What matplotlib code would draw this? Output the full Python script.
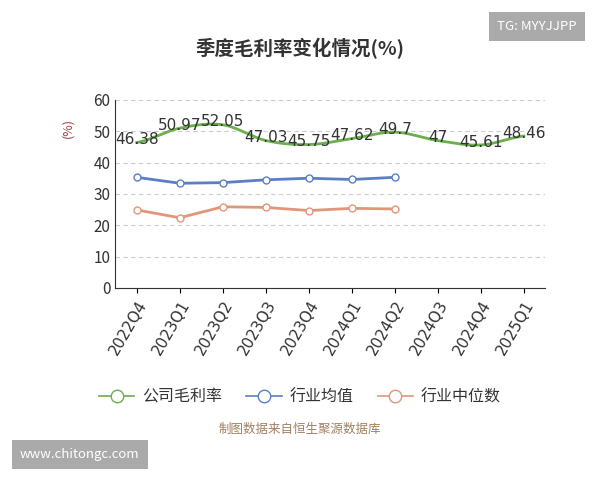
import numpy as np
import matplotlib
matplotlib.use("Agg")
import matplotlib.pyplot as plt
from matplotlib.lines import Line2D

plt.rcParams["font.family"] = ["Noto Sans CJK SC", "DejaVu Sans"]

quarters = ["2022Q4", "2023Q1", "2023Q2", "2023Q3", "2023Q4", "2024Q1",
            "2024Q2", "2024Q3", "2024Q4", "2025Q1"]
company = [46.38, 50.97, 52.05, 47.03, 45.75, 47.62, 49.7, 47, 45.61, 48.46]
industry_avg = [35.3, 33.4, 33.6, 34.5, 35.0, 34.6, 35.3]
industry_med = [24.9, 22.4, 25.9, 25.7, 24.7, 25.4, 25.2]

green, blue, orange = "#6ab04c", "#5b7fc4", "#e0967a"

fig = plt.figure(figsize=(6, 4.8), dpi=100)
ax = fig.add_axes([0.192, 0.4, 0.717, 0.392])

x = np.arange(len(quarters))
xs = np.linspace(0, len(x) - 1, 300)
def catmull(yv, xs):
    yv = np.asarray(yv, float)
    out = []
    for t in xs:
        i = min(int(t), len(yv) - 2)
        u = t - i
        p0 = yv[max(i - 1, 0)]; p1 = yv[i]; p2 = yv[i + 1]; p3 = yv[min(i + 2, len(yv) - 1)]
        out.append(0.5 * ((2 * p1) + (-p0 + p2) * u + (2 * p0 - 5 * p1 + 4 * p2 - p3) * u ** 2
                          + (-p0 + 3 * p1 - 3 * p2 + p3) * u ** 3))
    return np.array(out)
ax.plot(xs, catmull(company, xs), color=green, lw=2)
for xi, v in zip(x, company):
    ax.text(xi, v - 1.5, f"{v:g}", ha="center", va="bottom", fontsize=11, color="#333333",
            family="DejaVu Sans")

ax.plot(x[:len(industry_avg)], industry_avg, color=blue, lw=2, marker="o", ms=5,
        mfc="white", mec=blue)
ax.plot(x[:len(industry_med)], industry_med, color=orange, lw=2, marker="o", ms=5,
        mfc="white", mec=orange)

ax.set_xlim(-0.5, len(x) - 0.5)
ax.set_ylim(0, 60)
ax.set_yticks(range(0, 61, 10))
ax.yaxis.grid(True, ls=(0, (4, 3)), color="#cccccc")
ax.set_xticks(x)
ax.set_xticklabels(quarters, rotation=60, ha="right", rotation_mode="anchor", fontsize=11,
                   family="DejaVu Sans", color="#333333")
ax.tick_params(axis="y", labelsize=11, length=0, labelcolor="#333333")
for s in ["top", "right"]:
    ax.spines[s].set_visible(False)
ax.spines["left"].set_color("#333333")
ax.spines["bottom"].set_color("#333333")
ax.set_ylabel("(%)", color="#a04040", fontsize=9, rotation=90)
ax.yaxis.set_label_coords(-0.095, 0.85)

fig.text(0.5, 0.885, "季度毛利率变化情况(%)", ha="center", fontsize=14, fontweight="bold",
         color="#333333")

handles = [Line2D([], [], color=c, lw=1.2, marker="o", ms=9, mfc="white", mec=c)
           for c in (green, blue, orange)]
fig.legend(handles, ["公司毛利率", "行业均值", "行业中位数"], loc="center",
           bbox_to_anchor=(0.5, 0.172), ncol=3, frameon=False, fontsize=11.5,
           handlelength=2.2, columnspacing=1.5, handletextpad=0.5, labelcolor="#333333")
fig.text(0.5, 0.098, "制图数据来自恒生聚源数据库", ha="center", fontsize=9, color="#a08060")

fig.text(0.895, 0.945, "TG: MYYJJPP", ha="center", va="center", fontsize=9.5, color="white",
         bbox=dict(boxstyle="square,pad=0.6", fc="#aaaaaa", ec="none"))
fig.text(0.133, 0.053, "www.chitongc.com", ha="center", va="center", fontsize=9.5, color="white",
         bbox=dict(boxstyle="square,pad=0.6", fc="#aaaaaa", ec="none"))

fig.savefig("out.png", dpi=100)
